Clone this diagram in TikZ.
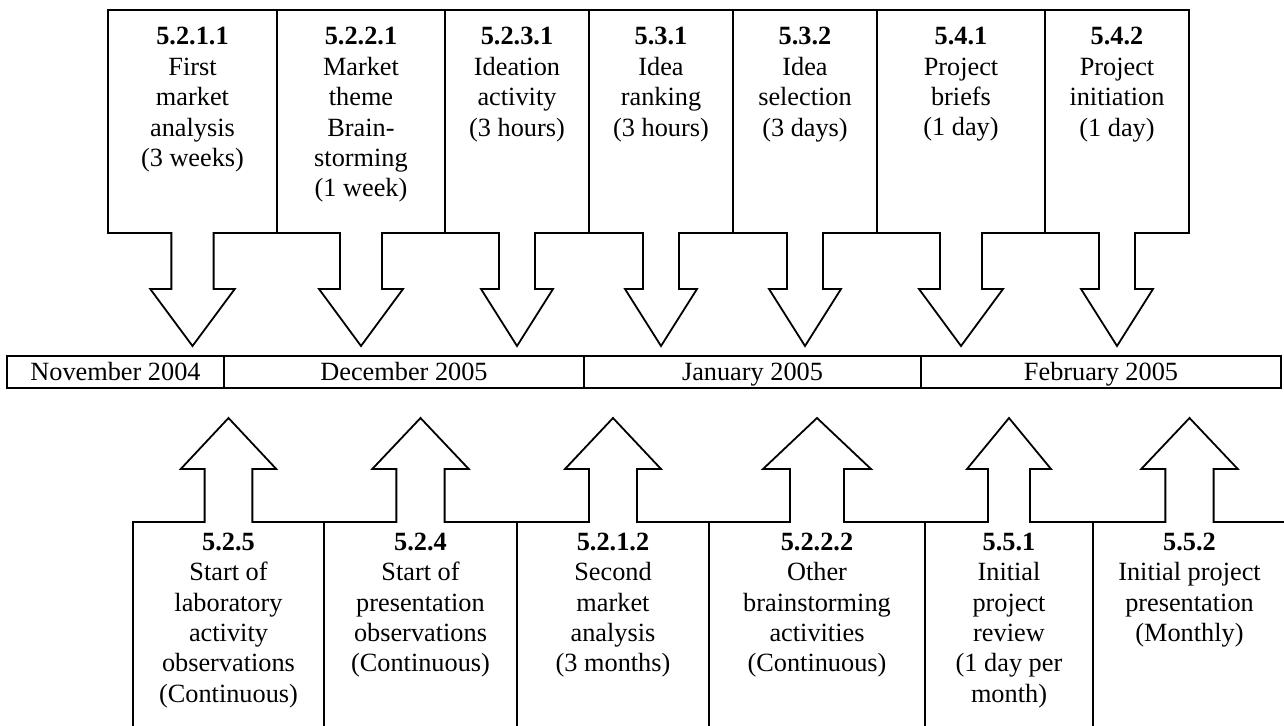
\documentclass[tikz,border=0pt]{standalone}
\usepackage{fontspec}
\setmainfont{Liberation Serif}

% Callout with a box on top and a downward arrow below it.
% #1 node name, #2 left x, #3 right x, #4 text
\newcommand\downcallout[4]{%
  \pgfmathsetmacro\midx{(#2+#3)/2}%
  \pgfmathsetmacro\halfshaft{(#3-#2)/8}%
  \pgfmathsetmacro\halfhead{(#3-#2)/4}%
  \draw[callout] (#2,233) -- (#2,10) -- (#3,10) -- (#3,233)
    -- (\midx+\halfshaft,233) -- (\midx+\halfshaft,289) -- (\midx+\halfhead,289)
    -- (\midx,346) -- (\midx-\halfhead,289) -- (\midx-\halfshaft,289)
    -- (\midx-\halfshaft,233) -- cycle;
  \node[lbl] (#1) at (\midx,27.2) {#4};%
}

% Callout with an upward arrow on top of an open box.
\newcommand\upcallout[4]{%
  \pgfmathsetmacro\midx{(#2+#3)/2}%
  \pgfmathsetmacro\halfshaft{(#3-#2)/8}%
  \pgfmathsetmacro\halfhead{(#3-#2)/4}%
  \draw[callout] (#2,760) -- (#2,522) -- (\midx-\halfshaft,522)
    -- (\midx-\halfshaft,469) -- (\midx-\halfhead,469) -- (\midx,418)
    -- (\midx+\halfhead,469) -- (\midx+\halfshaft,469)
    -- (\midx+\halfshaft,522) -- (#3,522) -- (#3,760);
  \node[lbl] (#1) at (\midx,532.7) {#4};%
}

\tikzset{
  callout/.style={draw=black, line width=1.8pt, line join=miter},
  lbl/.style={align=center, anchor=north, inner sep=0pt,
    font=\fontsize{26.3}{30.4}\selectfont},
  cell/.style={draw=black, line width=1.8pt, inner sep=0pt,
    minimum height=32pt, text height=18pt, text depth=2pt,
    font=\fontsize{26.3}{30.4}\selectfont},
}

\begin{document}
\begin{tikzpicture}[x=1pt,y=-1pt]
  \useasboundingbox (0,0) rectangle (1284,725);
  \clip (0,0) rectangle (1284,725);

  % upper activities
  \downcallout{a5211}{108}{277}{\textbf{5.2.1.1}\\First\\market\\analysis\\(3 weeks)}
  \downcallout{a5221}{277}{445}{\textbf{5.2.2.1}\\Market\\theme\\Brain-\\storming\\(1 week)}
  \downcallout{a5231}{445}{589}{\textbf{5.2.3.1}\\Ideation\\activity\\(3 hours)}
  \downcallout{a531}{589}{733}{\textbf{5.3.1}\\Idea\\ranking\\(3 hours)}
  \downcallout{a532}{733}{877}{\textbf{5.3.2}\\Idea\\selection\\(3 days)}
  \downcallout{a541}{877}{1045}{\textbf{5.4.1}\\Project\\briefs\\(1 day)}
  \downcallout{a542}{1045}{1189}{\textbf{5.4.2}\\Project\\initiation\\(1 day)}

  % month bar
  \node[cell, minimum width=217pt] (nov) at (115.5,372) {November 2004};
  \node[cell, minimum width=360pt] (dec) at (404,372) {December 2005};
  \node[cell, minimum width=337pt] (jan) at (752.5,372) {January 2005};
  \node[cell, minimum width=360pt] (feb) at (1101,372) {February 2005};

  % lower activities
  \upcallout{b525}{133}{324}{\textbf{5.2.5}\\Start of\\laboratory\\activity\\observations\\(Continuous)}
  \upcallout{b524}{324}{517}{\textbf{5.2.4}\\Start of\\presentation\\observations\\(Continuous)}
  \upcallout{b5212}{517}{709}{\textbf{5.2.1.2}\\Second\\market\\analysis\\(3 months)}
  \upcallout{b5222}{709}{925}{\textbf{5.2.2.2}\\Other\\brainstorming\\activities\\(Continuous)}
  \upcallout{b551}{925}{1093}{\textbf{5.5.1}\\Initial\\project\\review\\(1 day per\\month)}
  \upcallout{b552}{1093}{1286}{\textbf{5.5.2}\\Initial project\\presentation\\(Monthly)}
\end{tikzpicture}
\end{document}
